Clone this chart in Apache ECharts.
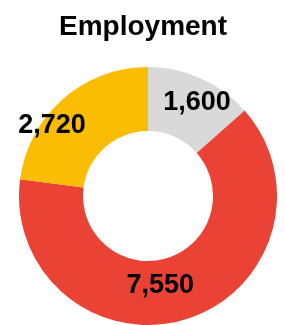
<!DOCTYPE html>
<html>
<head>
<meta charset="utf-8">
<script src="https://cdn.jsdelivr.net/npm/echarts@6/dist/echarts.min.js"></script>
<style>
  html, body { margin: 0; padding: 0; background: #fff; }
  #chart { width: 285px; height: 325px; }
</style>
</head>
<body>
<div id="chart"></div>
<script>
// data
var categories = ["Other", "Main", "Secondary"];
var values = [1600, 7550, 2720];
var colors = ["#d9d9d9", "#ea4335", "#fbbc04"];
// label nudges so the numbers sit where the original had them
var labelOffsets = [[8, -2], [-17, -6], [-30, 5]];

var chart = echarts.init(document.getElementById("chart"));

var seriesData = categories.map(function (name, i) {
  return {
    name: name,
    value: values[i],
    itemStyle: { color: colors[i] },
    label: { offset: labelOffsets[i] }
  };
});

chart.setOption({
  animation: false,
  title: {
    text: "Employment",
    left: 54,
    top: 8,
    textStyle: {
      fontFamily: "Liberation Sans, Arial, sans-serif",
      fontSize: 28,
      fontWeight: "bold",
      color: "#000"
    }
  },
  series: [
    {
      type: "pie",
      center: [148, 196],
      radius: [65, 129],
      startAngle: 90,
      clockwise: true,
      silent: true,
      itemStyle: { borderWidth: 0 },
      label: {
        show: true,
        position: "inside",
        fontFamily: "Liberation Sans, Arial, sans-serif",
        fontSize: 27,
        fontWeight: "bold",
        color: "#000",
        formatter: function (p) {
          return p.value.toLocaleString("en-US");
        }
      },
      labelLine: { show: false },
      data: seriesData
    }
  ]
});
</script>
</body>
</html>
